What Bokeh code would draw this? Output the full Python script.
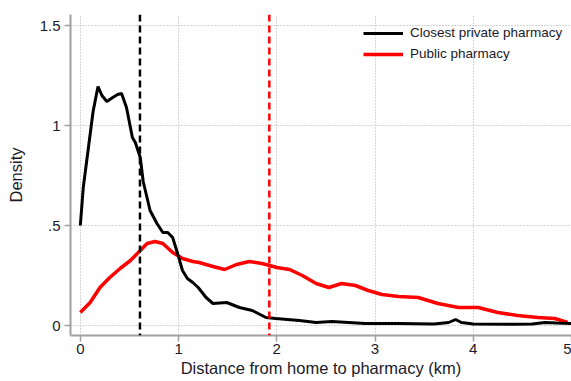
from bokeh.plotting import figure
from bokeh.models import Span, Legend, LegendItem, FixedTicker
from bokeh.embed import file_html
from bokeh.resources import INLINE

# Data
private_x = [0.0, 0.03, 0.08, 0.13, 0.18, 0.22, 0.27, 0.33, 0.38, 0.42, 0.47, 0.53, 0.56,
             0.61, 0.64, 0.71, 0.78, 0.84, 0.89, 0.94, 0.99, 1.04, 1.09, 1.145, 1.2, 1.28,
             1.35, 1.49, 1.62, 1.75, 1.89, 1.99, 2.23, 2.4, 2.56, 2.73, 2.9, 3.24, 3.6,
             3.75, 3.82, 3.88, 4.0, 4.4, 4.6, 4.73, 4.85, 5.0]
private_y = [0.50, 0.69, 0.88, 1.07, 1.195, 1.15, 1.12, 1.14, 1.155, 1.16, 1.09, 0.94, 0.915,
             0.84, 0.72, 0.575, 0.51, 0.465, 0.465, 0.44, 0.36, 0.275, 0.235, 0.215, 0.19, 0.14,
             0.11, 0.115, 0.09, 0.075, 0.04, 0.035, 0.025, 0.015, 0.02, 0.015, 0.01, 0.01, 0.008,
             0.015, 0.03, 0.015, 0.008, 0.006, 0.008, 0.015, 0.012, 0.01]

public_x = [0.0, 0.1, 0.2, 0.3, 0.405, 0.51, 0.61, 0.68, 0.76, 0.84, 0.94, 1.04, 1.145, 1.21,
            1.35, 1.47, 1.59, 1.72, 1.85, 2.0, 2.13, 2.26, 2.4, 2.53, 2.66, 2.8, 2.93, 3.07,
            3.24, 3.44, 3.64, 3.85, 4.05, 4.25, 4.45, 4.66, 4.83, 4.96]
public_y = [0.065, 0.115, 0.19, 0.24, 0.285, 0.325, 0.375, 0.41, 0.42, 0.41, 0.365, 0.335, 0.32,
            0.315, 0.295, 0.28, 0.305, 0.32, 0.31, 0.29, 0.28, 0.25, 0.21, 0.19, 0.21, 0.2, 0.175,
            0.155, 0.145, 0.14, 0.11, 0.09, 0.09, 0.065, 0.05, 0.04, 0.035, 0.015]

private_mean = 0.607
public_mean = 1.924

x_ticks = [0, 1, 2, 3, 4, 5]
y_ticks = [0, 0.5, 1, 1.5]
y_tick_labels = {0: "0", 0.5: ".5", 1: "1", 1.5: "1.5"}

FONT = "Liberation Sans"
TXT = "#1a1a2a"
AX = "#a0a0a0"

p = figure(width=571, height=381, output_backend="svg", toolbar_location=None,
           x_range=(-0.1, 5.0), y_range=(-0.05, 1.555),
           min_border_left=70, min_border_right=0, min_border_top=14, min_border_bottom=46)
p.outline_line_color = None
p.background_fill_color = "white"

r_priv = p.line(private_x, private_y, line_color="black", line_width=3)
r_pub = p.line(public_x, public_y, line_color="#ff0000", line_width=3.5)
p.renderers = [r_pub, r_priv]

p.add_layout(Span(location=private_mean, dimension="height", line_color="black",
                  line_width=2.5, line_dash="7 4"))
p.add_layout(Span(location=public_mean, dimension="height", line_color="#ff0000",
                  line_width=2.5, line_dash="7 4"))

p.xaxis.ticker = FixedTicker(ticks=x_ticks)
p.yaxis.ticker = FixedTicker(ticks=y_ticks)
p.yaxis.major_label_overrides = y_tick_labels
p.xaxis.axis_label = "Distance from home to pharmacy (km)"
p.yaxis.axis_label = "Density"

for ax in (p.xaxis[0], p.yaxis[0]):
    ax.axis_line_color = AX
    ax.axis_line_width = 2
    ax.major_tick_line_color = AX
    ax.major_tick_line_width = 1.5
    ax.major_tick_out = 6
    ax.major_tick_in = 0
    ax.minor_tick_line_color = None
    ax.major_label_text_font = FONT
    ax.major_label_text_font_size = "15px"
    ax.major_label_text_color = TXT
    ax.axis_label_text_font = FONT
    ax.axis_label_text_font_size = "16.5px"
    ax.axis_label_text_font_style = "normal"
    ax.axis_label_text_color = TXT
p.yaxis.major_label_orientation = "horizontal"
p.xaxis.major_label_standoff = 2
p.yaxis.major_label_standoff = 4
p.xaxis.axis_label_standoff = 2
p.yaxis.axis_label_standoff = 12

for g in (p.xgrid[0], p.ygrid[0]):
    g.grid_line_color = "#aaaaaa"
    g.grid_line_dash = "1 2"
    g.grid_line_width = 1

legend = Legend(items=[LegendItem(label="Closest private pharmacy", renderers=[r_priv]),
                       LegendItem(label="Public pharmacy", renderers=[r_pub])],
                location=(283, 264))
legend.background_fill_alpha = 0
legend.border_line_alpha = 0
legend.label_text_font = FONT
legend.label_text_font_size = "13.5px"
legend.label_text_color = TXT
legend.glyph_width = 40
legend.glyph_height = 14
legend.spacing = 6
legend.label_standoff = 7
legend.padding = 10
legend.margin = 0
p.add_layout(legend)

open("out.html", "w").write(file_html(p, INLINE))
